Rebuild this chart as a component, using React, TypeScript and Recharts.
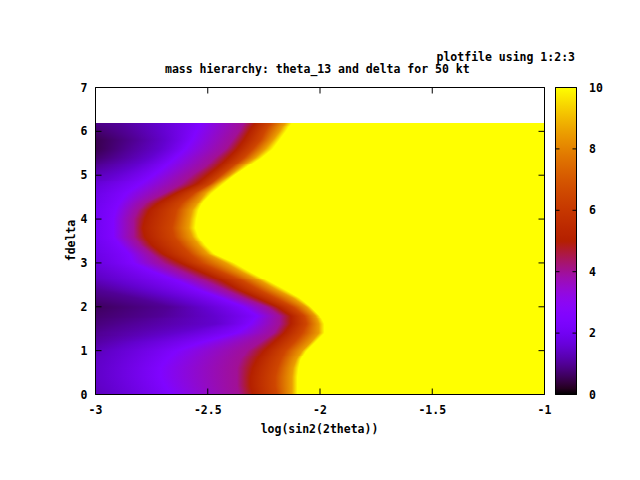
import React from 'react';
import { ComposedChart, XAxis, YAxis, ReferenceArea } from 'recharts';

// rows of the pm3d map (fdelta), bottom to top
const deltaRows = [0, 0.2, 0.4, 0.6, 0.8, 1.0, 1.2, 1.4, 1.6, 1.8, 2.0, 2.2, 2.4, 2.6, 2.8, 3.0,
  3.2, 3.4, 3.6, 3.8, 4.0, 4.2, 4.4, 4.6, 4.8, 5.0, 5.2, 5.4, 5.6, 5.8, 6.0, 6.2];

// value at log(sin2(2theta)) = -3 for each row
const leftValue = [1.3, 1.4, 1.45, 1.45, 1.4, 1.3, 1.1, 0.95, 0.8, 0.7, 0.6, 0.8, 1.0, 1.3, 1.5, 1.7,
  1.8, 1.9, 2.0, 2.0, 2.0, 2.0, 1.9, 1.8, 1.6, 1.3, 1.0, 0.7, 0.5, 0.5, 0.7, 0.9];

// x position where each row reaches a given level (null = already above it at the left edge)
const xLevel1 = [null, null, null, null, null, null, null, -2.98, -2.85, -2.71, -2.67, -2.82, null, null, null, null,
  null, null, null, null, null, null, null, null, null, null, null, -2.9, -2.85, -2.82, -2.86, -2.9];
const xLevel15 = [-2.92, -2.95, -2.97, -2.97, -2.95, -2.92, -2.82, -2.64, -2.46, -2.47, -2.52, -2.64, -2.79, -2.92, null, null,
  null, null, null, null, null, null, null, null, null, -2.92, -2.83, -2.76, -2.71, -2.69, -2.705, -2.72];
const xLevel25 = [-2.66, -2.69, -2.71, -2.71, -2.68, -2.64, -2.52, -2.37, -2.31, -2.28, -2.34, -2.44, -2.55, -2.64, -2.74, -2.83,
  -2.85, -2.89, -2.92, -2.92, -2.92, -2.91, -2.89, -2.86, -2.8, -2.74, -2.69, -2.645, -2.6, -2.57, -2.55, -2.53];
const xLevel4 = [-2.36, -2.37, -2.37, -2.37, -2.355, -2.325, -2.265, -2.205, -2.18, -2.18, -2.235, -2.34, -2.43, -2.52, -2.61, -2.7,
  -2.75, -2.8, -2.83, -2.83, -2.83, -2.81, -2.77, -2.69, -2.62, -2.57, -2.51, -2.47, -2.42, -2.39, -2.36, -2.34];
const xLevel5 = [-2.3, -2.31, -2.31, -2.3, -2.28, -2.25, -2.205, -2.16, -2.13, -2.13, -2.19, -2.28, -2.37, -2.44, -2.53, -2.62,
  -2.7, -2.75, -2.78, -2.79, -2.78, -2.76, -2.71, -2.64, -2.55, -2.5, -2.45, -2.41, -2.37, -2.34, -2.315, -2.29];
const xLevel65 = [-2.19, -2.2, -2.2, -2.19, -2.175, -2.155, -2.115, -2.08, -2.06, -2.07, -2.12, -2.2, -2.28, -2.35, -2.44, -2.53,
  -2.58, -2.62, -2.65, -2.66, -2.65, -2.64, -2.61, -2.56, -2.49, -2.44, -2.39, -2.34, -2.3, -2.265, -2.245, -2.22];
const xLevel85 = [-2.125, -2.125, -2.125, -2.12, -2.105, -2.08, -2.04, -2.005, -2.005, -2.02, -2.06, -2.12, -2.2, -2.27, -2.35, -2.42,
  -2.5, -2.54, -2.57, -2.585, -2.58, -2.57, -2.54, -2.51, -2.46, -2.4, -2.35, -2.29, -2.245, -2.21, -2.18, -2.155];
const xLevel10 = [-2.1, -2.1, -2.1, -2.095, -2.085, -2.06, -2.02, -1.98, -1.98, -2.0, -2.04, -2.09, -2.16, -2.235, -2.31, -2.38,
  -2.47, -2.51, -2.54, -2.555, -2.55, -2.54, -2.52, -2.48, -2.43, -2.38, -2.32, -2.26, -2.21, -2.18, -2.15, -2.125];

const levels = [1, 1.5, 2.5, 4, 5, 6.5, 8.5, 10];
const levelCols = [xLevel1, xLevel15, xLevel25, xLevel4, xLevel5, xLevel65, xLevel85, xLevel10];

const xTicks = [-3, -2.5, -2, -1.5, -1];
const yTicks = [0, 1, 2, 3, 4, 5, 6, 7];
const cbTicks = [0, 2, 4, 6, 8, 10];

const FONT = '"DejaVu Sans Mono", monospace';
const tickStyle = { fill: '#000', fontSize: 11.5, fontFamily: FONT, fontWeight: 'bold' };
const SUB = 9; // strips drawn per band (linear shading between two rows, like pm3d interpolate)

// gnuplot rgbformulae 7,5,15
function palette(v: number) {
  const g = Math.min(1, Math.max(0, v / 10));
  const r = Math.sqrt(g);
  const gg = g * g * g;
  const b = Math.max(0, Math.sin(2 * Math.PI * g));
  const h = (c: number) => Math.round(c * 255).toString(16).padStart(2, '0');
  return '#' + h(r) + h(gg) + h(b);
}

// where a row reaches level k (left edge if it starts above it)
function levelPos(i: number, k: number) {
  const xv = levelCols[k][i];
  return xv == null || levels[k] <= leftValue[i] ? -3 : xv;
}

// gradient stops for a strip at fraction t between row i and row i+1
function stripStops(i: number, t: number) {
  const j = Math.min(i + 1, deltaRows.length - 1);
  const v0 = leftValue[i] * (1 - t) + leftValue[j] * t;
  const stops = [{ x: -3, v: v0 }];
  let last = -3;
  levels.forEach((lv, k) => {
    if (lv <= v0) return;
    const xv = Math.max(last, levelPos(i, k) * (1 - t) + levelPos(j, k) * t);
    stops.push({ x: xv, v: lv });
    last = xv;
  });
  stops.push({ x: -1, v: 10 });
  return stops;
}

const frameData = [{ x: -3, y: 0 }, { x: -1, y: 7 }];
const cbData = [{ x: 0, y: 0 }, { x: 1, y: 10 }];
const blank = () => '';

function bandShape(i: number) {
  return (p: any) => {
    const h = p.height / SUB;
    const strips = [];
    for (let k = 0; k < SUB; k++) {
      strips.push(
        <rect key={k} x={p.x} y={p.y + p.height - (k + 1) * h} width={p.width} height={h}
          fill={`url(#s${i}_${k})`} shapeRendering="crispEdges" />
      );
    }
    return <g>{strips}</g>;
  };
}

export default function App() {
  const bands: React.ReactNode[] = [];
  const grads: React.ReactNode[] = [];
  for (let i = 0; i < deltaRows.length - 1; i++) {
    for (let k = 0; k < SUB; k++) {
      grads.push(
        <linearGradient key={`s${i}_${k}`} id={`s${i}_${k}`} x1="0" y1="0" x2="1" y2="0">
          {stripStops(i, (k + 0.5) / SUB).map((s, m) => (
            <stop key={m} offset={(s.x + 3) / 2} stopColor={palette(s.v)} />
          ))}
        </linearGradient>
      );
    }
    bands.push(
      <ReferenceArea key={'b' + i} xAxisId="bx" yAxisId="ly" x1={-3} x2={-1} y1={deltaRows[i]} y2={deltaRows[i + 1]}
        ifOverflow="visible" shape={bandShape(i)} />
    );
  }

  return (
    <div style={{ position: 'absolute', left: 0, top: 0, width: 640, height: 480, background: '#fff' }}>
      <div style={{ position: 'absolute', left: 0, top: 0 }}>
        <ComposedChart width={640} height={480} data={frameData}
          margin={{ top: 77.5, right: 85.5, bottom: 55.5, left: 55.5 }}>
          <defs>{grads}</defs>
          {bands}
          <XAxis xAxisId="bx" dataKey="x" type="number" domain={[-3, -1]} ticks={xTicks} allowDataOverflow interval={0}
            height={30} tickSize={-6} tickMargin={17.7} stroke="#000" tick={tickStyle} />
          <XAxis xAxisId="top" dataKey="x" orientation="top" type="number" domain={[-3, -1]} ticks={xTicks}
            allowDataOverflow interval={0} height={10} tickSize={-6} stroke="#000" tickFormatter={blank} />
          <YAxis yAxisId="ly" dataKey="y" type="number" domain={[0, 7]} ticks={yTicks} allowDataOverflow interval={0}
            width={40} tickSize={-6} tickMargin={14} stroke="#000" tick={tickStyle} />
          <YAxis yAxisId="right" dataKey="y" orientation="right" type="number" domain={[0, 7]} ticks={yTicks}
            allowDataOverflow interval={0} width={10} tickSize={-6} stroke="#000" tickFormatter={blank} />
        </ComposedChart>
      </div>

      <div style={{ position: 'absolute', left: 0, top: 0 }}>
        <ComposedChart width={640} height={480} data={cbData}
          margin={{ top: 87.5, right: 33.5, bottom: 85.5, left: 545.5 }}>
          <defs>
            <linearGradient id="cbar" x1="0" y1="1" x2="0" y2="0">
              {Array.from({ length: 51 }, (_, k) => (
                <stop key={k} offset={k / 50} stopColor={palette(k / 5)} />
              ))}
            </linearGradient>
          </defs>
          <XAxis xAxisId="cx" dataKey="x" type="number" domain={[0, 1]} hide allowDataOverflow />
          <YAxis yAxisId="cbl" dataKey="y" orientation="left" type="number" domain={[0, 10]} ticks={cbTicks}
            allowDataOverflow interval={0} width={10} tickSize={-4} stroke="#000" tickFormatter={blank} />
          <YAxis yAxisId="cb" dataKey="y" orientation="right" type="number" domain={[0, 10]} ticks={cbTicks}
            allowDataOverflow interval={0} width={30} tickSize={-4} tickMargin={16.5} stroke="#000"
            tick={{ ...tickStyle, textAnchor: 'start' }} />
          <ReferenceArea xAxisId="cx" yAxisId="cb" x1={0} x2={1} y1={0} y2={10} ifOverflow="visible"
            fill="url(#cbar)" fillOpacity={1} stroke="#000" strokeWidth={1} />
        </ComposedChart>
      </div>

      <svg width={640} height={480} style={{ position: 'absolute', left: 0, top: 0 }}
        fontFamily={FONT} fontWeight="bold" fontSize={11.5} fill="#000">
        <text x={575} y={60.7} textAnchor="end">plotfile using 1:2:3</text>
        <text x={165} y={72.5}>mass hierarchy: theta_13 and delta for 50 kt</text>
        <text x={319.5} y={433} textAnchor="middle">log(sin2(2theta))</text>
        <text x={75} y={240.5} textAnchor="middle" transform="rotate(-90 75 240.5)">fdelta</text>
      </svg>
    </div>
  );
}
